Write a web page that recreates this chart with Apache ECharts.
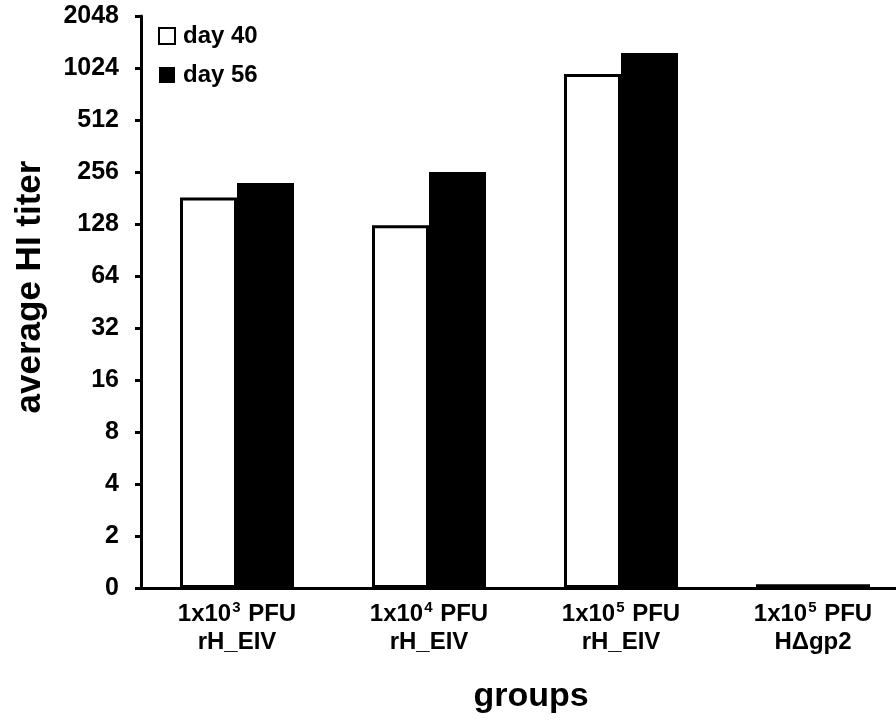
<!DOCTYPE html>
<html>
<head>
<meta charset="utf-8">
<script src="https://cdn.jsdelivr.net/npm/echarts@6/dist/echarts.min.js"></script>
<style>
html,body{margin:0;padding:0;background:#fff;}
#chart{width:896px;height:721px;}
</style>
</head>
<body>
<div id="chart"></div>
<script>
// Data (titers)
var groupDose = ['3', '4', '5', '5'];
var groupVirus = ['rH_EIV', 'rH_EIV', 'rH_EIV', 'H\u0394gp2'];
var categories = ['1x10^3 PFU rH_EIV', '1x10^4 PFU rH_EIV', '1x10^5 PFU rH_EIV', '1x10^5 PFU H\u0394gp2'];
var day40 = [182, 126, 945, 1.05];
var day56 = [221, 256, 1250, 1.05];
var yTickLabels = ['0', '2', '4', '8', '16', '32', '64', '128', '256', '512', '1024', '2048'];

var FONT = "'Liberation Sans', Arial, sans-serif";
function toLog(arr){ return arr.map(function(v){ return Math.log2(v); }); }

var chart = echarts.init(document.getElementById('chart'));
chart.setOption({
  animation: false,
  backgroundColor: '#fff',
  grid: { left: 141, top: 16, width: 768, height: 572, containLabel: false, outerBoundsMode: 'none' },
  legend: {
    orient: 'vertical', left: 158, top: 24, padding: 0, icon: 'rect',
    itemWidth: 16, itemHeight: 16, itemGap: 15,
    textStyle: { fontFamily: FONT, fontWeight: 'bold', fontSize: 24, color: '#000', padding: [0, 0, 0, 3] },
    data: ['day 40', 'day 56']
  },
  xAxis: {
    type: 'category',
    data: categories,
    axisLine: { lineStyle: { color: '#000', width: 3 } },
    axisTick: { show: false },
    axisLabel: {
      margin: 12,
      interval: 0,
      hideOverlap: false,
      formatter: function(v, i){
        return '{a|1x10}{s|' + groupDose[i] + '}{a| PFU}\n{a|' + groupVirus[i] + '}';
      },
      rich: {
        a: { fontFamily: FONT, fontWeight: 'bold', fontSize: 24, color: '#000', lineHeight: 28 },
        s: { fontFamily: FONT, fontWeight: 'bold', fontSize: 15, color: '#000', verticalAlign: 'top', lineHeight: 28, padding: [0, 1, 10, 1] }
      }
    }
  },
  yAxis: {
    type: 'value', min: 0, max: 11, interval: 1,
    splitLine: { show: false },
    axisLine: { show: true, lineStyle: { color: '#000', width: 3 } },
    axisTick: { show: true, length: 6, lineStyle: { color: '#000', width: 3 } },
    axisLabel: {
      margin: 22,
      fontFamily: FONT, fontWeight: 'bold', fontSize: 25, color: '#000',
      formatter: function(v){ return yTickLabels[v]; }
    }
  },
  graphic: [
    { type: 'text', x: 30, y: 287, rotation: Math.PI / 2,
      style: { text: 'average HI titer', fontFamily: FONT, fontWeight: 'bold', fontSize: 35, fill: '#000', align: 'center', verticalAlign: 'middle' } },
    { type: 'text', x: 531, y: 697,
      style: { text: 'groups', fontFamily: FONT, fontWeight: 'bold', fontSize: 34, fill: '#000', align: 'center', verticalAlign: 'middle' } }
  ],
  series: [
    { name: 'day 40', type: 'bar', data: toLog(day40), barWidth: 57, barGap: '0%',
      itemStyle: { color: '#fff', borderColor: '#000', borderWidth: 3 } },
    { name: 'day 56', type: 'bar', data: toLog(day56), barWidth: 57, barGap: '0%',
      itemStyle: { color: '#000', borderColor: '#000', borderWidth: 0 } }
  ]
});
</script>
</body>
</html>
